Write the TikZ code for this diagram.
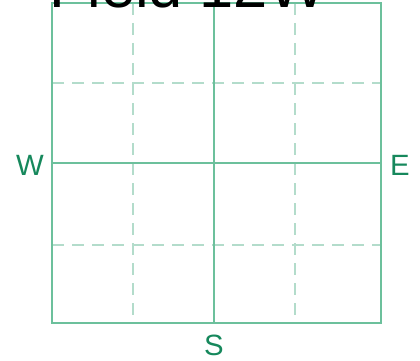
\documentclass[tikz,border=0pt]{standalone}
\usepackage{fontspec}
\setmainfont{Liberation Sans}
\definecolor{gridline}{HTML}{6CC09C}
\definecolor{gridfaint}{HTML}{B3DCCB}
\definecolor{labelgreen}{HTML}{16885C}
\begin{document}
\begin{tikzpicture}[x=0.75pt,y=-0.75pt,
  solidline/.style={draw=gridline,line width=1.4pt},
  faintline/.style={draw=gridfaint,line width=1.4pt,dash pattern=on 9pt off 6pt},
  dirlabel/.style={text=labelgreen,font=\fontsize{22}{24}\selectfont,inner sep=0pt},
  titlelabel/.style={text=black,font=\fontsize{46}{50}\selectfont,inner sep=0pt,anchor=base}]
\useasboundingbox (0,0) rectangle (420,360);
\coordinate (tl) at (52,3);
\coordinate (br) at (381,323);
\coordinate (tm) at (214,3);
\coordinate (bm) at (214,323);
\coordinate (lm) at (52,163);
\coordinate (rm) at (381,163);
\coordinate (d1t) at (133,3); \coordinate (d1b) at (133,323);
\coordinate (d2t) at (295,3); \coordinate (d2b) at (295,323);
\coordinate (h1l) at (52,83); \coordinate (h1r) at (381,83);
\coordinate (h2l) at (52,245); \coordinate (h2r) at (381,245);
\draw[faintline] (d1t) -- (d1b);
\draw[faintline] (d2t) -- (d2b);
\draw[faintline] (h1l) -- (h1r);
\draw[faintline] (h2l) -- (h2r);
\draw[solidline] (tm) -- (bm);
\draw[solidline] (lm) -- (rm);
\draw[solidline] (tl) rectangle (br);
\node[titlelabel] (title) at (188,8) {Field 12W};
\node[dirlabel] (west) at (30,165) {W};
\node[dirlabel] (east) at (400,165) {E};
\node[dirlabel] (south) at (214,345) {S};
\end{tikzpicture}
\end{document}
